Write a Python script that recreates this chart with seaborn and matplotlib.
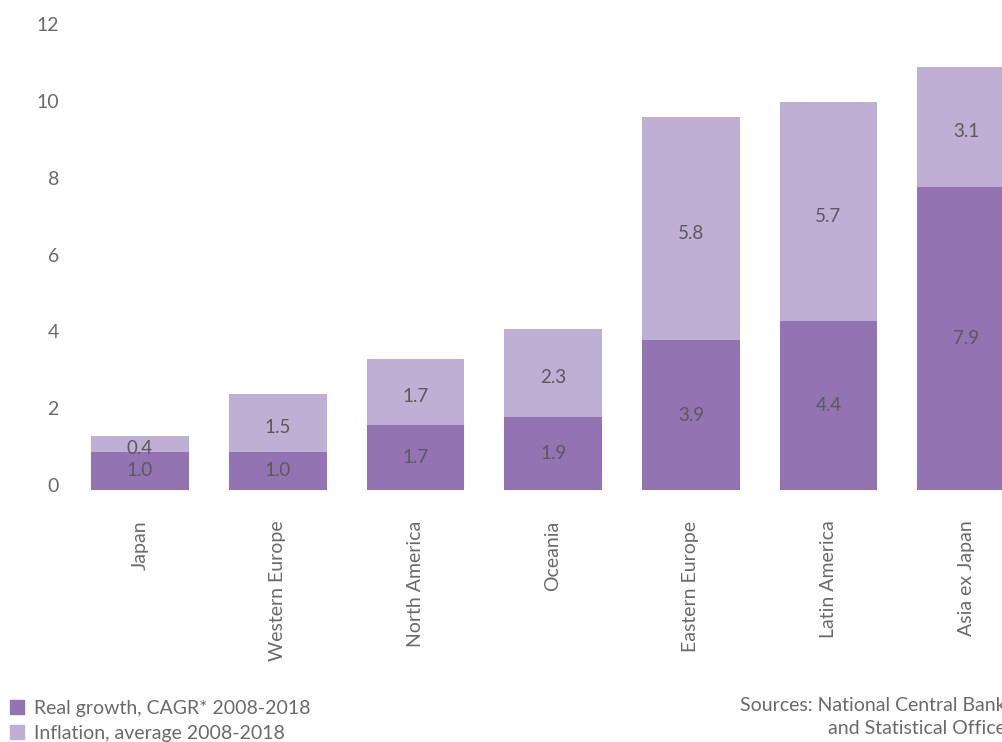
import numpy as np
import pandas as pd
import matplotlib
matplotlib.use("Agg")
import matplotlib.pyplot as plt
import matplotlib.transforms as mtransforms
from matplotlib.patches import Patch
import seaborn as sns

regions = ["Japan", "Western Europe", "North America", "Oceania",
           "Eastern Europe", "Latin America", "Asia ex Japan"]
real_growth = [1.0, 1.0, 1.7, 1.9, 3.9, 4.4, 7.9]
inflation = [0.4, 1.5, 1.7, 2.3, 5.8, 5.7, 3.1]
y_ticks = [0, 2, 4, 6, 8, 10, 12]
legend_labels = ["Real growth, CAGR* 2008-2018", "Inflation, average 2008-2018"]
source_text = "Sources: National Central Banks\nand Statistical Offices"

dark = "#9473b3"
light = "#c0afd4"
tick_grey = "#6a6a6a"
label_grey = "#5a5a5a"

sns.set_style("white")
plt.rcParams['font.family'] = ['Lato', 'DejaVu Sans']

df = pd.DataFrame({"region": regions, "real": real_growth, "infl": inflation})
df["total"] = df["real"] + df["infl"]

fig = plt.figure(figsize=(10.03, 7.42), dpi=100)
W, H = 1003, 742
left_px, bottom_px, top_px = 70, 490, 29
ax = fig.add_axes([left_px / W, (H - bottom_px) / H, (W - left_px) / W, (bottom_px - top_px) / H])

# stacked bars: total in light colour, real growth over it in dark
sns.barplot(data=df, x="region", y="total", color=light, width=0.71, linewidth=0, saturation=1, ax=ax)
sns.barplot(data=df, x="region", y="real", color=dark, width=0.71, linewidth=0, saturation=1, ax=ax)

for i, row in df.iterrows():
    ax.text(i, row["real"] / 2, f"{row['real']:.1f}", ha="center", va="center",
            fontsize=13.5, color=label_grey)
    ax.text(i, row["real"] + row["infl"] / 2 - 0.12, f"{row['infl']:.1f}", ha="center", va="center",
            fontsize=13.5, color=label_grey)

step = 137.7
ax.set_xlim((left_px - 140) / step, (W - 140) / step)
ax.set_ylim(0, 12)
ax.set_yticks(y_ticks)
ax.set_xlabel("")
ax.set_ylabel("")
sns.despine(ax=ax, left=True, bottom=True)
ax.tick_params(axis="both", length=0, labelsize=14, colors=tick_grey)
ax.tick_params(axis="y", pad=8)
ax.tick_params(axis="x", pad=22)
plt.setp(ax.get_xticklabels(), rotation=90, ha="center", va="top")
shift = mtransforms.ScaledTranslation(0, 5 / 100, fig.dpi_scale_trans)
for t in ax.get_yticklabels():
    t.set_transform(t.get_transform() + shift)

handles = [Patch(color=dark), Patch(color=light)]
leg = fig.legend(handles, legend_labels, loc="upper left", bbox_to_anchor=(0.006, (H - 696) / H),
                 frameon=False, fontsize=14, handlelength=0.75, handleheight=0.75,
                 handletextpad=0.5, labelspacing=0.4, borderaxespad=0, borderpad=0.2)
for t in leg.get_texts():
    t.set_color(tick_grey)

fig.text(1014 / W, (H - 697) / H, source_text, ha="right", va="top", multialignment="right",
         fontsize=14, color=tick_grey, linespacing=1.4)

fig.savefig("out.png", dpi=100)
